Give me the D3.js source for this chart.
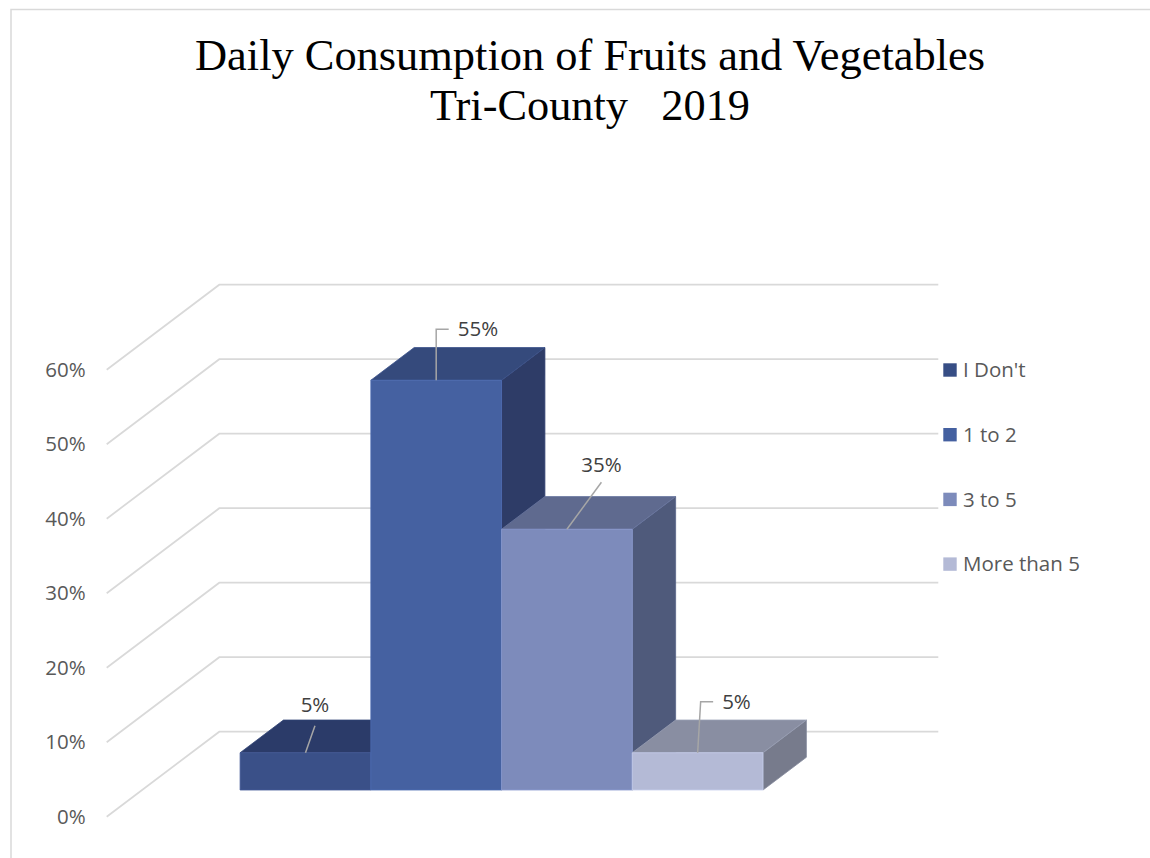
<!DOCTYPE html>
<html>
<head>
<meta charset="utf-8">
<script src="https://cdn.jsdelivr.net/npm/d3@7/dist/d3.min.js"></script>
<style>
  html, body { margin: 0; padding: 0; background: #ffffff; }
  svg { display: block; }
</style>
</head>
<body>
<svg id="chart" width="1150" height="858"></svg>
<script>
// ---- data ----
const categories = ["I Don't", "1 to 2", "3 to 5", "More than 5"];
const values = [0.05, 0.55, 0.35, 0.05];
const yTicks = [0, 0.1, 0.2, 0.3, 0.4, 0.5, 0.6];
const titleLines = ["Daily Consumption of Fruits and Vegetables", "Tri-County   2019"];

// ---- styles ----
const frontColors = ["#3a5088", "#4561a1", "#7d8bbb", "#b4bad6"];
const topColors   = ["#2b3b69", "#354a7c", "#5f6a8f", "#898ea2"];
const sideColors  = ["#26345c", "#2e3c67", "#4f5a7b", "#777b8c"];
const legendColors = ["#374e85", "#4460a0", "#7d8bbb", "#b4bad6"];
// leader-line layout for each data label (relative to the bar's front-top centre)
const leaderLayout = [
  { kind: "slant", dx: 9.5, dy: -27, gap: 14 },
  { kind: "elbow", dx: 0,   dy: -51, run: 12.5 },
  { kind: "slant", dx: 34.5, dy: -47, gap: 10 },
  { kind: "elbow", dx: 3,   dy: -51, run: 12.5 }
];

const svg = d3.select("#chart");
const font = "'Open Sans', 'Noto Sans', sans-serif";

// chart area border
svg.append("rect")
  .attr("x", 11).attr("y", 9.5).attr("width", 1160).attr("height", 880)
  .attr("fill", "none").attr("stroke", "#d9d9d9").attr("stroke-width", 1.5);

// ---- 3D oblique geometry ----
const O = { x: 106.7, y: 816.7 };     // front-left floor corner
const D = { x: 112.6, y: -85 };       // full depth vector
const floorW = 719;
const t1 = 0.314, t2 = 0.699;         // bar depth range

const yH = d3.scaleLinear().domain([0, 0.6]).range([0, 447]);
const xBand = d3.scaleBand().domain(categories).range([0, floorW])
  .paddingInner(0).paddingOuter(0.75);

function P(x, v, t) {
  return [O.x + x + t * D.x, O.y - yH(v) + t * D.y];
}
const line = d3.line();

// gridlines: side wall diagonals + back wall horizontals
const grid = svg.append("g").attr("fill", "none")
  .attr("stroke", "#d9d9d9").attr("stroke-width", 1.75);
yTicks.forEach(v => {
  grid.append("path").attr("d", line([P(0, v, 0), P(0, v, 1), P(floorW, v, 1)]));
});

// y axis labels
const yAxisScale = d3.scaleLinear().domain([0, 0.6])
  .range([O.y - yH(0), O.y - yH(0.6)]);
const yAxis = d3.axisLeft(yAxisScale).tickValues(yTicks)
  .tickFormat(d3.format(".0%")).tickSize(0).tickPadding(21);
const ax = svg.append("g").attr("transform", `translate(${O.x},0)`).call(yAxis);
ax.select(".domain").remove();
ax.selectAll("text").attr("font-family", font).attr("font-size", 20.5)
  .attr("fill", "#595959");

// bars
const bars = svg.append("g");
categories.forEach((c, i) => {
  const v = values[i];
  const x0 = xBand(c), x1 = x0 + xBand.bandwidth();
  const g = bars.append("g");
  const edge = col => d3.color(col).brighter(0.3).formatHex();
  g.append("path")
    .attr("d", line([P(x1, 0, t1), P(x1, 0, t2), P(x1, v, t2), P(x1, v, t1)]) + "Z")
    .attr("fill", sideColors[i]).attr("stroke", edge(sideColors[i])).attr("stroke-width", 0.8);
  g.append("path")
    .attr("d", line([P(x0, v, t1), P(x1, v, t1), P(x1, v, t2), P(x0, v, t2)]) + "Z")
    .attr("fill", topColors[i]).attr("stroke", edge(topColors[i])).attr("stroke-width", 0.8);
  g.append("path")
    .attr("d", line([P(x0, 0, t1), P(x1, 0, t1), P(x1, v, t1), P(x0, v, t1)]) + "Z")
    .attr("fill", frontColors[i]).attr("stroke", edge(frontColors[i])).attr("stroke-width", 0.8);
});

// data labels with leader lines
const lbl = svg.append("g");
const pct = d3.format(".0%");
categories.forEach((c, i) => {
  const v = values[i];
  const x0 = xBand(c), x1 = x0 + xBand.bandwidth();
  const a = P((x0 + x1) / 2, v, t1);
  const L = leaderLayout[i];
  if (L.kind === "slant") {
    const e = [a[0] + L.dx, a[1] + L.dy];
    lbl.append("path").attr("d", line([a, e]))
      .attr("stroke", "#a6a6a6").attr("stroke-width", 1.5).attr("fill", "none");
    lbl.append("text").attr("x", e[0]).attr("y", e[1] - L.gap)
      .attr("text-anchor", "middle").attr("font-family", font).attr("font-size", 20.5)
      .attr("fill", "#404040").text(pct(v));
  } else {
    const m = [a[0] + L.dx, a[1] + L.dy];
    const e = [m[0] + L.run, m[1]];
    lbl.append("path").attr("d", line([a, m, e]))
      .attr("stroke", "#a6a6a6").attr("stroke-width", 1.5).attr("fill", "none");
    lbl.append("text").attr("x", e[0] + 9).attr("y", e[1]).attr("dy", "0.35em")
      .attr("text-anchor", "start").attr("font-family", font).attr("font-size", 20.5)
      .attr("fill", "#404040").text(pct(v));
  }
});

// legend
const leg = svg.append("g");
categories.forEach((c, i) => {
  const cy = 370 + i * 64.7;
  leg.append("rect").attr("x", 943.3).attr("y", cy - 6.7)
    .attr("width", 13.4).attr("height", 13.4).attr("fill", legendColors[i]);
  leg.append("text").attr("x", 963).attr("y", cy).attr("dy", "0.35em")
    .attr("font-family", font).attr("font-size", 20.5).attr("fill", "#595959").text(c);
});

// title
const titleY = [70, 120];
const titleLen = [790, 320];
titleLines.forEach((t, i) => {
  svg.append("text").attr("x", 590).attr("y", titleY[i])
    .attr("text-anchor", "middle")
    .attr("font-family", "'Liberation Serif', 'DejaVu Serif', serif")
    .attr("font-size", 45).attr("fill", "#000000")
    .attr("textLength", titleLen[i]).attr("lengthAdjust", "spacingAndGlyphs")
    .style("white-space", "pre")
    .text(t);
});
</script>
</body>
</html>
